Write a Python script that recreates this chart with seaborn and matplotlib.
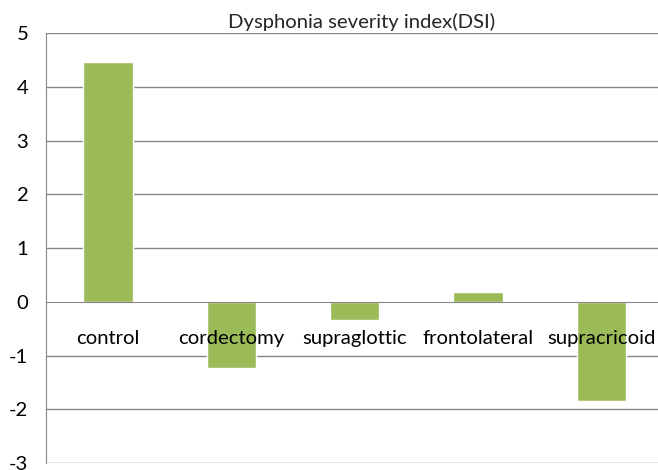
import matplotlib
matplotlib.use("Agg")
import matplotlib.pyplot as plt
import seaborn as sns
import pandas as pd

categories = ["control", "cordectomy", "supraglottic", "frontolateral", "supracricoid"]
values = [4.47, -1.24, -0.34, 0.185, -1.85]
yticks = [-3, -2, -1, 0, 1, 2, 3, 4, 5]
title = "Dysphonia severity index(DSI)"

sns.set_style("white")
plt.rcParams['font.family'] = ['Lato', 'DejaVu Sans']

fig = plt.figure(figsize=(6.58, 4.70), dpi=100)
ax = fig.add_axes([46.3 / 658, 1 - 463 / 470, (663 - 46.3) / 658, (463 - 33.3) / 470])
ax.set_axisbelow(False)

df = pd.DataFrame({"cat": categories, "val": values})
sns.barplot(data=df, x="cat", y="val", color="#9BBB59", saturation=1, width=0.4, ax=ax, zorder=1.5)

grid_c = "#878787"
fs = 14.6
ax.set_ylim(-3, 5)
ax.set_xlim(-0.5, len(categories) - 0.5)
ax.set_yticks(yticks)
ax.set_yticklabels([str(t) for t in yticks], fontsize=fs)
for t in yticks:
    if t != 0:
        ax.axhline(t, color=grid_c, lw=1.0, zorder=1)

for s in ["top", "right"]:
    ax.spines[s].set_visible(False)
ax.spines["left"].set_color(grid_c)
ax.spines["bottom"].set_color(grid_c)
ax.spines["bottom"].set_position(("data", 0))
ax.tick_params(axis="y", length=6, width=1, direction="out", pad=7, color=grid_c, labelcolor="black")

# category boundaries as major ticks, labels at centers via minor ticks
ax.set_xticks([i + 0.5 for i in range(len(categories) - 1)])
ax.set_xticklabels([])
ax.tick_params(axis="x", which="major", length=6, color=grid_c, width=1, direction="out")
ax.set_xticks(range(len(categories)), minor=True)
ax.set_xticklabels(categories, minor=True, fontsize=fs)
ax.tick_params(axis="x", which="minor", length=0, pad=20, labelcolor="black")
ax.set_xlabel("")
ax.set_ylabel("")

fig.text(362 / 658, 1 - 22 / 470, title, ha="center", va="center", fontsize=fs)

fig.savefig("out.png", dpi=100)
